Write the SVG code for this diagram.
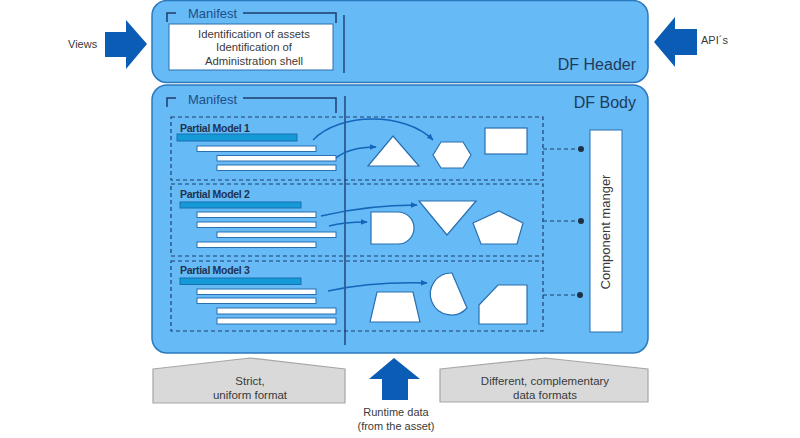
<svg xmlns="http://www.w3.org/2000/svg" width="800" height="438" viewBox="0 0 800 438">
<defs>
<style>
.panel{fill:#66baf6;stroke:#2b78bd;stroke-width:1.5}
.t{font-family:"Liberation Sans",Arial,sans-serif;fill:#3a3a3a}
.man{font-family:"Liberation Sans",Arial,sans-serif;fill:#1f4e86;font-size:13px}
.title{font-family:"Liberation Sans",Arial,sans-serif;fill:#1f3b5a;font-size:16px;text-anchor:end}
.pm{font-family:"Liberation Sans",Arial,sans-serif;fill:#1f3350;font-size:10.5px;font-weight:bold;letter-spacing:-0.3px}
.brk{fill:none;stroke:#1f3c6e;stroke-width:1.5}
.vline{stroke:#1a3560;stroke-width:1.3}
.dash{fill:none;stroke:#1f3c6e;stroke-width:1.2;stroke-dasharray:4,3}
.bar{fill:#149ad6;stroke:#1a6fb0;stroke-width:1}
.wbar{fill:#fff;stroke:#2a6fb0;stroke-width:1}
.shape{fill:#fff;stroke:#2a6fb0;stroke-width:1.2}
.fl{fill:none;stroke:#1565b8;stroke-width:1.4}
.bigarrow{fill:#0b5cb5}
.gray{fill:#d9d9d9;stroke:#a6a6a6;stroke-width:1.2}
.dot{fill:#1f2f44}
</style>
<marker id="ah" viewBox="0 0 10 10" refX="9" refY="5" markerWidth="7" markerHeight="7" orient="auto" markerUnits="userSpaceOnUse">
<path d="M0,1 L10,5 L0,9 Z" fill="#1565b8"/>
</marker>
</defs>

<g id="views">
<polygon class="bigarrow" points="105,32 126,32 126,20 147,44 126,69 126,57 105,57"/>
<text class="t" x="68" y="48" font-size="11">Views</text>
</g>
<g id="apis">
<polygon class="bigarrow" points="697,29 675,29 675,17 654,42 675,67 675,55 697,55"/>
<text class="t" x="701" y="44" font-size="11">API´s</text>
</g>

<g id="df-header">
<rect class="panel" x="152" y="0.5" width="496" height="82" rx="15"/>
<polyline class="brk" points="167,22 167,13 176,13"/>
<text class="man" x="188" y="18">Manifest</text>
<polyline class="brk" points="243,13 336,13 336,23"/>
<rect x="169" y="24" width="164" height="46" fill="#fff" stroke="#2a6fb0" stroke-width="1"/>
<text class="t" font-size="11.3" text-anchor="middle"><tspan x="254" y="38">Identification of assets</tspan><tspan x="254" y="51">Identification of</tspan><tspan x="254" y="65">Administration shell</tspan></text>
<line class="vline" x1="344" y1="15" x2="344" y2="73"/>
<text class="title" x="636" y="70">DF Header</text>
</g>

<g id="df-body">
<rect class="panel" x="152" y="85" width="496" height="268" rx="15"/>
<polyline class="brk" points="167,107 167,98 176,98"/>
<text class="man" x="188" y="104">Manifest</text>
<polyline class="brk" points="243,98 336,98 336,113"/>
<text class="title" x="636" y="108">DF Body</text>
</g>

<g id="partial-model-1">
<rect class="dash" x="171" y="117" width="372" height="63"/>
<text class="pm" x="180" y="132">Partial Model 1</text>
<rect class="bar" x="177" y="134" width="120" height="7"/>
<rect class="wbar" x="197" y="146" width="119" height="5.5"/>
<rect class="wbar" x="217" y="155.5" width="119" height="5.5"/>
<rect class="wbar" x="217" y="165" width="119" height="5.5"/>
<polygon class="shape" points="368,166 393,136 419,166"/>
<polygon class="shape" points="433,155 441,142 463,142 471,155 463,168 441,168"/>
<rect class="shape" x="485" y="128" width="42" height="26"/>
</g>

<g id="partial-model-2">
<rect class="dash" x="171" y="184" width="372" height="72"/>
<text class="pm" x="180" y="198">Partial Model 2</text>
<rect class="bar" x="180" y="202" width="121" height="6"/>
<rect class="wbar" x="197" y="212" width="119" height="5.5"/>
<rect class="wbar" x="197" y="222" width="119" height="5.5"/>
<rect class="wbar" x="217" y="232" width="119" height="5.5"/>
<rect class="wbar" x="197" y="242" width="119" height="5.5"/>
<path class="shape" d="M371,212 H398 A16,16 0 0 1 398,244 H371 Z"/>
<polygon class="shape" points="419,201 476,201 447,235"/>
<polygon class="shape" points="499,211 523,223 517,244 481,244 473,223"/>
</g>

<g id="partial-model-3">
<rect class="dash" x="171" y="261" width="372" height="70"/>
<text class="pm" x="180" y="274">Partial Model 3</text>
<rect class="bar" x="180" y="278" width="121" height="6.5"/>
<rect class="wbar" x="197" y="289" width="119" height="5.5"/>
<rect class="wbar" x="197" y="298" width="119" height="5.5"/>
<rect class="wbar" x="217" y="308" width="119" height="6"/>
<rect class="wbar" x="217" y="318" width="119" height="6"/>
<polygon class="shape" points="377,292 413,292 420,322 370,322"/>
<path class="shape" d="M452,273 L467,308 A21,21 0 1 1 452,273 Z"/>
<polygon class="shape" points="479,305 498,285 527,285 527,324 479,324"/>
</g>

<g id="component-manager">
<rect x="590" y="130" width="32" height="202" fill="#fff" stroke="#2a6fb0" stroke-width="1"/>
<text class="t" font-size="13" text-anchor="middle" transform="translate(610,232) rotate(-90)">Component manger</text>
</g>

<g id="strict-format">
<polygon class="gray" points="153,369 250,358 345,369 345,403 153,403"/>
<text class="t" font-size="11.5" text-anchor="middle"><tspan x="250" y="385">Strict,</tspan><tspan x="250" y="399">uniform format</tspan></text>
</g>
<g id="complementary-formats">
<polygon class="gray" points="440,369 545,358 648,369 648,402 440,402"/>
<text class="t" font-size="11.5" text-anchor="middle"><tspan x="545" y="385">Different, complementary</tspan><tspan x="545" y="399">data formats</tspan></text>
</g>
<g id="runtime-data">
<polygon class="bigarrow" points="394,358 420,379 408,379 408,400 382,400 382,379 369,379"/>
<text class="t" font-size="11" text-anchor="middle"><tspan x="396" y="416">Runtime data</tspan><tspan x="396" y="430">(from the asset)</tspan></text>
</g>

<g id="connectors">
<line class="vline" x1="345" y1="96" x2="345" y2="345"/>
<path class="fl" d="M313,140 C340,112 405,112 433,140" marker-end="url(#ah)"/>
<path class="fl" d="M336,158 C346,150 358,147 376,147" marker-end="url(#ah)"/>
<path class="fl" d="M321,216 C355,208 385,205 417,205" marker-end="url(#ah)"/>
<path class="fl" d="M329,226 C340,223 352,222 367,222" marker-end="url(#ah)"/>
<path class="fl" d="M328,291 C365,283 395,282 427,283" marker-end="url(#ah)"/>
<line class="dash" x1="543" y1="149" x2="580" y2="149"/>
<line class="dash" x1="543" y1="221" x2="580" y2="221"/>
<line class="dash" x1="543" y1="295" x2="580" y2="295"/>
<circle class="dot" cx="581" cy="149" r="3"/>
<circle class="dot" cx="581" cy="221" r="3"/>
<circle class="dot" cx="580" cy="295" r="3"/>
</g>
</svg>
